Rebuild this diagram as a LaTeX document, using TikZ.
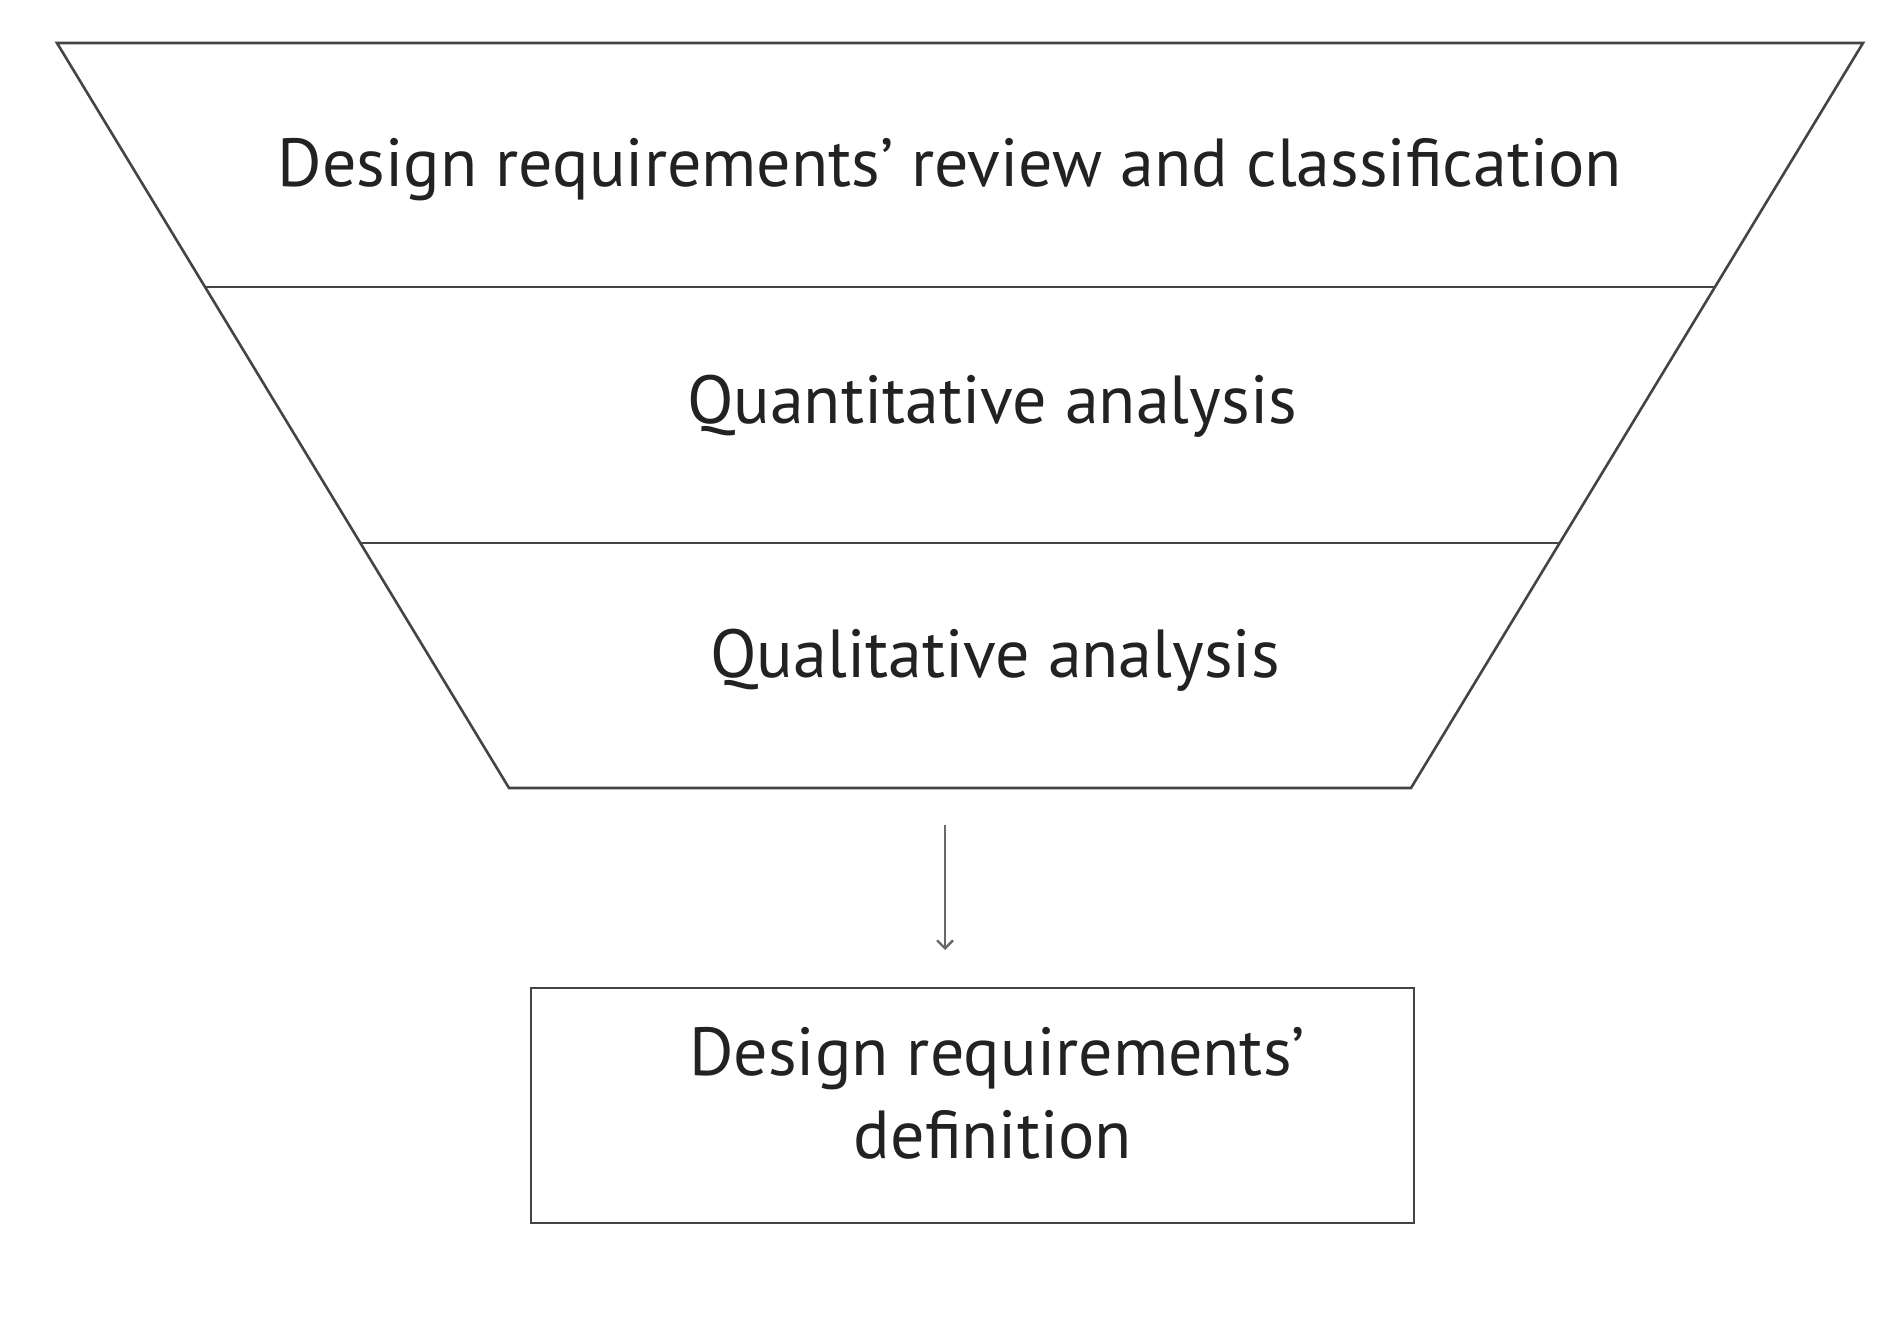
\documentclass[tikz,border=0pt]{standalone}
\usepackage{fontspec}
\setmainfont{PT Sans}
\usetikzlibrary{arrows.meta}
\definecolor{linegray}{HTML}{444444}
\definecolor{textgray}{HTML}{222222}
\begin{document}
\begin{tikzpicture}[x=1pt,y=-1pt,
  funnelline/.style={draw=linegray,line width=2.6pt,line join=miter},
  label/.style={anchor=base,inner sep=0pt,text=textgray,font=\fontsize{68}{82}\selectfont},
  resultbox/.style={draw=linegray,line width=2.6pt,minimum width=883pt,minimum height=235pt,inner sep=0pt},
  flowarrow/.style={draw=linegray!80,line width=2.4pt,-{Straight Barb[length=8pt,width=16pt]}}]
\useasboundingbox (0,0) rectangle (1895,1332);
% funnel corners
\coordinate (tl) at (57,43);
\coordinate (tr) at (1863,43);
\coordinate (bl) at (509,788);
\coordinate (br) at (1411,788);
\coordinate (l1) at (205,287);
\coordinate (r1) at (1715,287);
\coordinate (l2) at (360,543);
\coordinate (r2) at (1560,543);
\draw[funnelline] (tl) -- (tr) -- (br) -- (bl) -- cycle;
\draw[funnelline] (l1) -- (r1);
\draw[funnelline] (l2) -- (r2);
\node[label] (review) at (950,187) {Design requirements’ review and classification};
\node[label] (quant) at (992,423) {Quantitative analysis};
\node[label] (qual) at (995,677) {Qualitative analysis};
\node[resultbox] (box) at (972.5,1105.5) {};
\node[label] (def1) at (997,1075) {Design requirements’};
\node[label] (def2) at (993,1158) {definition};
\coordinate (atop) at (945,825);
\coordinate (abot) at (945,950);
\draw[flowarrow] (atop) -- (abot);
\end{tikzpicture}
\end{document}
